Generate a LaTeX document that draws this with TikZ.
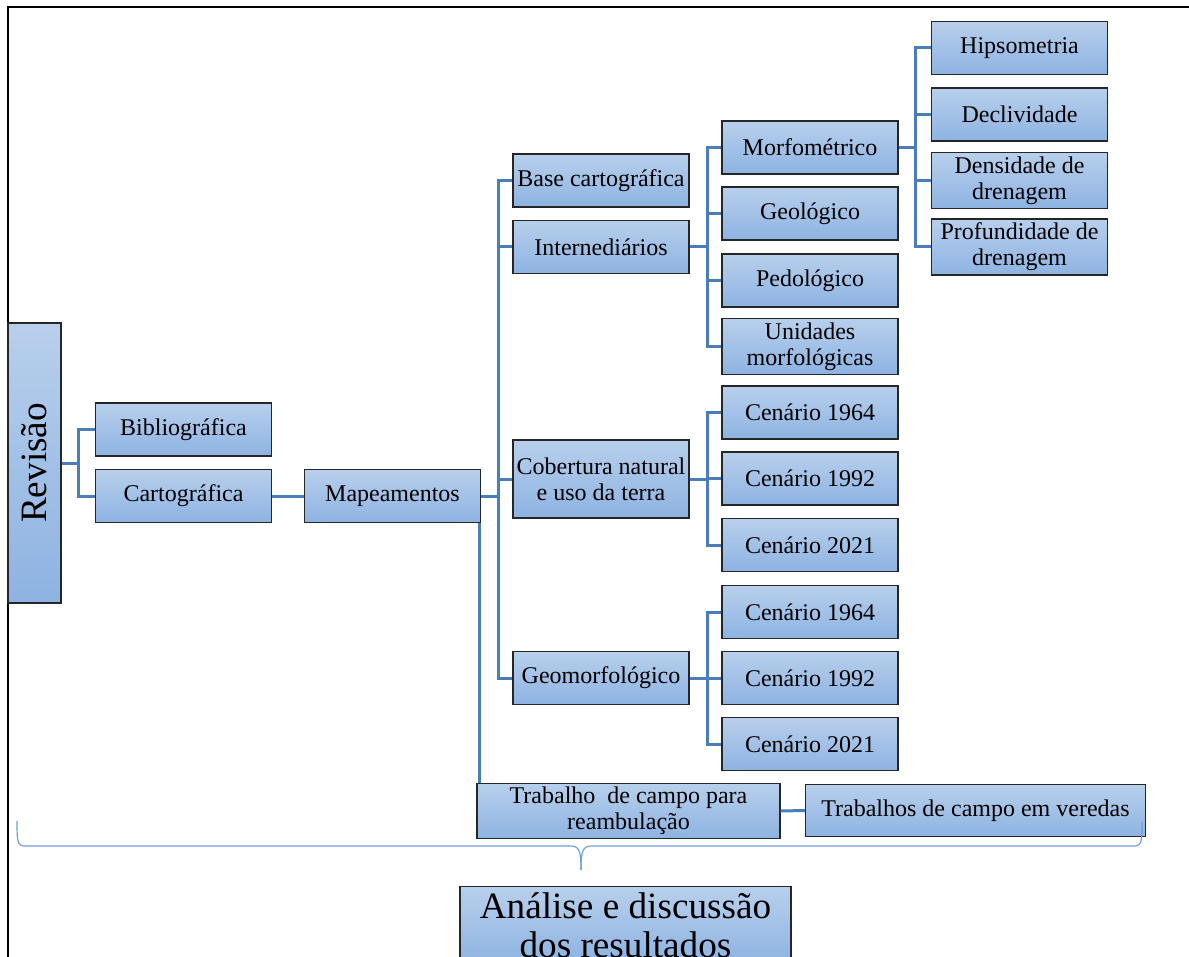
\documentclass[tikz,border=0pt]{standalone}
\usepackage{fontspec}
\usepackage{graphicx}
\setmainfont{Liberation Serif}

\definecolor{azulclaro}{RGB}{184,207,236}
\definecolor{azulescuro}{RGB}{141,179,226}
\definecolor{azullinha}{RGB}{74,126,187}
\definecolor{azulchave}{RGB}{112,160,214}

\tikzset{
  caixa/.style={draw=black!85,line width=0.6pt,top color=azulclaro,bottom color=azulescuro,
    minimum width=88pt,minimum height=26.5pt,inner xsep=1pt,inner ysep=2pt,align=center,
    font=\fontsize{12}{13}\selectfont},
  lig/.style={draw=azullinha,line width=1.5pt},
  chave/.style={draw=azulchave,line width=0.6pt},
}

\begin{document}
\begin{tikzpicture}[x=0.5pt,y=-0.5pt]
                \useasboundingbox (0,0) rectangle (1189,957);
                \clip (0,0) rectangle (1189,957);
                \draw[line width=1pt] (8,957)--(8,7)--(1189,7);
                % primeiro nivel
                \node[caixa,minimum width=26.5pt,minimum height=140pt,font=\fontsize{18.6}{20}\selectfont] (rev) at (34.5,463) {\rotatebox{90}{Revisão}};
                \node[caixa] (bib) at (183.5,429.5) {Bibliográfica};
                \node[caixa] (cart) at (183.5,496) {Cartográfica};
                \node[caixa] (map) at (392.5,496) {Mapeamentos};
                % mapeamentos
                \node[caixa] (base) at (601,180.5) {Base cartográfica};
                \node[caixa] (inter) at (601,247) {Internediários};
                \node[caixa,minimum height=39pt] (cob) at (601,479) {Cobertura natural\\e uso da terra};
                \node[caixa] (geo) at (601,678) {Geomorfológico};
                % intermediarios
                \node[caixa] (morf) at (810,147.5) {Morfométrico};
                \node[caixa] (geol) at (810,213.5) {Geológico};
                \node[caixa] (pedo) at (810,280.5) {Pedológico};
                \node[caixa] (unid) at (810,346.5) {Unidades\\morfológicas};
                % morfometrico
                \node[caixa] (hips) at (1019.5,48) {Hipsometria};
                \node[caixa] (decl) at (1019.5,114.5) {Declividade};
                \node[caixa] (dens) at (1019.5,180.5) {Densidade de\\drenagem};
                \node[caixa] (prof) at (1019.5,247) {Profundidade de\\drenagem};
                % cenarios
                \foreach \ano/\yy [count=\i] in {1964/412.5,1992/478.5,2021/545}
                \node[caixa] (cob\i) at (810,\yy) {Cenário \ano};
                \foreach \ano/\yy [count=\i] in {1964/612,1992/678,2021/744}
                \node[caixa] (geo\i) at (810,\yy) {Cenário \ano};
                % campo
                \node[caixa,minimum width=151.5pt,minimum height=26pt] (trab) at (628.5,811) {Trabalho\ \ de campo para\\reambulação};
                \node[caixa,minimum width=170pt,minimum height=26pt] (ver) at (975.5,810.5) {Trabalhos de campo em veredas};
                \node[caixa,anchor=north,minimum width=165.5pt,inner ysep=3pt,font=\fontsize{18.6}{19.5}\selectfont] (ana) at (625.5,886) {Análise e discussão\\dos resultados};
                % ligacoes
                \foreach \f in {bib,cart}
                \draw[lig] (rev.east)--++(17,0)|-(\f.west);
                \draw[lig] (cart)--(map);
                \foreach \f in {base,inter,cob,geo}
                \draw[lig] (map.east)--++(17,0)|-(\f.west);
                \draw[lig] ([xshift=-1pt]map.south east)--([xshift=-1pt]map.south east|-trab.north);
                \foreach \f in {morf,geol,pedo,unid}
                \draw[lig] (inter.east)--++(18,0)|-(\f.west);
                \foreach \f in {hips,decl,dens,prof}
                \draw[lig] (morf.east)--++(17,0)|-(\f.west);
                \foreach \i in {1,2,3}{
                \draw[lig] (cob.east)--++(18,0)|-(cob\i.west);
                \draw[lig] (geo.east)--++(18,0)|-(geo\i.west);}
                \draw[lig] (trab.east)--(ver.west);
                % chave
                \draw[chave] (17,821) .. controls (17,846) and (18,846) .. (27,846)--(570,846) .. controls (579,846) and (581,850) .. (581,870);
                \draw[chave] (1142,822) .. controls (1142,846) and (1141,846) .. (1132,846)--(592,846) .. controls (583,846) and (581,850) .. (581,870);
            \end{tikzpicture}
\end{document}
